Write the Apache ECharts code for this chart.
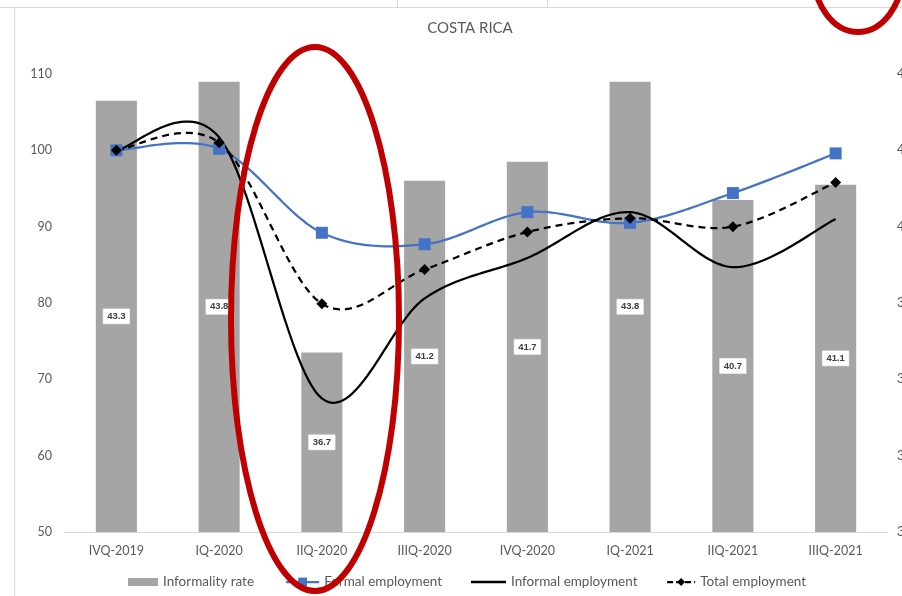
<!DOCTYPE html>
<html>
<head>
<meta charset="utf-8">
<script src="https://cdn.jsdelivr.net/npm/echarts@6/dist/echarts.min.js"></script>
<style>
  html, body { margin: 0; padding: 0; background: #ffffff; }
  #chart { width: 902px; height: 596px; }
</style>
</head>
<body>
<div id="chart"></div>
<script>
// Quarterly labour market indicators, Costa Rica (index IVQ-2019 = 100)
const categories = ['IVQ-2019', 'IQ-2020', 'IIQ-2020', 'IIIQ-2020', 'IVQ-2020', 'IQ-2021', 'IIQ-2021', 'IIIQ-2021'];
const informalityRate = [43.3, 43.8, 36.7, 41.2, 41.7, 43.8, 40.7, 41.1];
const formalEmployment = [100, 100.2, 89.2, 87.7, 91.9, 90.5, 94.4, 99.6];
const informalEmployment = [100, 101.7, 67.5, 80.6, 85.9, 91.9, 84.7, 91.0];
const totalEmployment = [100, 101.0, 79.9, 84.4, 89.3, 91.1, 90.0, 95.8];

const leftTicks = { min: 50, max: 110, interval: 10 };
const rightTicks = { min: 32, max: 44, interval: 2 };

const FONT = 'Lato';
const TEXT = '#595959';
const BLUE = '#4472c4';

// Catmull-Rom style smoothing (tangent = (next - prev) / 6), sampled into a polyline.
// Points are converted to pixels with the chart's own coordinate system.
function smoothRenderer(values, style) {
  return function (params, api) {
    if (params.dataIndex !== 0) return null;
    const pts = values.map((v, i) => api.coord([i, v]));
    const n = pts.length;
    const out = [pts[0]];
    const STEPS = 30;
    for (let i = 0; i < n - 1; i++) {
      const p0 = pts[Math.max(i - 1, 0)];
      const p1 = pts[i];
      const p2 = pts[i + 1];
      const p3 = pts[Math.min(i + 2, n - 1)];
      const c1 = [p1[0] + (p2[0] - p0[0]) / 6, p1[1] + (p2[1] - p0[1]) / 6];
      const c2 = [p2[0] - (p3[0] - p1[0]) / 6, p2[1] - (p3[1] - p1[1]) / 6];
      for (let s = 1; s <= STEPS; s++) {
        const t = s / STEPS, u = 1 - t;
        const a = u * u * u, b = 3 * u * u * t, c = 3 * u * t * t, d = t * t * t;
        out.push([
          a * p1[0] + b * c1[0] + c * c2[0] + d * p2[0],
          a * p1[1] + b * c1[1] + c * c2[1] + d * p2[1]
        ]);
      }
    }
    return {
      type: 'polyline',
      shape: { points: out, smooth: 0 },
      style: Object.assign({ fill: null, lineCap: 'butt', lineJoin: 'round' }, style),
      silent: true
    };
  };
}

const chart = echarts.init(document.getElementById('chart'), null, { renderer: 'canvas' });

const legendBase = {
  top: 575,
  padding: 0,
  itemGap: 0,
  textStyle: { fontFamily: FONT, fontSize: 13.5, color: TEXT },
  selectedMode: false
};

chart.setOption({
  backgroundColor: '#ffffff',
  animation: false,
  title: {
    text: 'COSTA RICA',
    left: 465,
    top: 16,
    textAlign: 'center',
    textStyle: { fontFamily: FONT, fontSize: 15, fontWeight: 'normal', color: TEXT }
  },
  grid: { left: 65, right: 15, top: 74, bottom: 64, outerBoundsMode: 'none', containLabel: false },
  legend: [
    Object.assign({}, legendBase, {
      left: 128, itemWidth: 30, itemHeight: 8,
      data: [{ name: 'Informality rate', icon: 'rect' }]
    }),
    Object.assign({}, legendBase, {
      left: 285, itemWidth: 33, itemHeight: 11,
      data: [{ name: 'Formal employment', lineStyle: { opacity: 1, width: 2.25, color: BLUE } }]
    }),
    Object.assign({}, legendBase, {
      left: 471, itemWidth: 35, itemHeight: 2.5,
      data: [{ name: 'Informal employment', icon: 'rect', itemStyle: { color: '#000000', opacity: 1 } }]
    }),
    Object.assign({}, legendBase, {
      left: 666, itemWidth: 28, itemHeight: 10,
      data: [{ name: 'Total employment', lineStyle: { opacity: 1, width: 2.25, color: '#000000', type: [6, 3] } }]
    })
  ],
  xAxis: {
    type: 'category',
    data: categories,
    axisLine: { lineStyle: { color: '#d9d9d9', width: 1 } },
    axisTick: { show: false },
    axisLabel: { fontFamily: FONT, fontSize: 12.5, color: TEXT, margin: 12 }
  },
  yAxis: [
    {
      type: 'value',
      min: leftTicks.min, max: leftTicks.max, interval: leftTicks.interval,
      splitLine: { show: false },
      axisLine: { show: false },
      axisTick: { show: false },
      axisLabel: { fontFamily: FONT, fontSize: 12.5, color: TEXT, margin: 13 }
    },
    {
      type: 'value',
      position: 'right',
      min: rightTicks.min, max: rightTicks.max, interval: rightTicks.interval,
      splitLine: { show: false },
      axisLine: { show: false },
      axisTick: { show: false },
      axisLabel: { fontFamily: FONT, fontSize: 12.5, color: TEXT, margin: 10 }
    }
  ],
  series: [
    {
      name: 'Informality rate',
      type: 'bar',
      yAxisIndex: 1,
      data: informalityRate,
      barWidth: '40%',
      itemStyle: { color: '#a5a5a5' },
      label: {
        show: true,
        position: 'inside',
        formatter: (p) => p.value.toFixed(1),
        fontFamily: 'Liberation Sans',
        fontSize: 9.5,
        fontWeight: 'bold',
        color: '#404040',
        backgroundColor: '#ffffff',
        borderColor: '#d0d0d0',
        borderWidth: 0.5,
        padding: [3, 4, 2, 4]
      },
      z: 1
    },
    // smoothed curves
    {
      name: 'formal-curve', type: 'custom', data: formalEmployment, z: 3,
      renderItem: smoothRenderer(formalEmployment, { stroke: BLUE, lineWidth: 2.25 })
    },
    {
      name: 'Informal employment', type: 'custom', data: informalEmployment, z: 3,
      itemStyle: { color: '#000000' },
      renderItem: smoothRenderer(informalEmployment, { stroke: '#000000', lineWidth: 2.25 })
    },
    {
      name: 'total-curve', type: 'custom', data: totalEmployment, z: 4,
      renderItem: smoothRenderer(totalEmployment, { stroke: '#000000', lineWidth: 2.25, lineDash: [7, 5] })
    },
    // point markers
    {
      name: 'Formal employment',
      type: 'line',
      data: formalEmployment,
      symbol: 'rect',
      symbolSize: 12,
      lineStyle: { opacity: 0 },
      itemStyle: { color: BLUE },
      z: 5
    },
    {
      name: 'Total employment',
      type: 'line',
      data: totalEmployment,
      symbol: 'diamond',
      symbolSize: 11,
      lineStyle: { opacity: 0 },
      itemStyle: { color: '#000000' },
      z: 6
    }
  ],
  graphic: [
    // outer sheet frame
    { type: 'line', shape: { x1: 0, y1: 7.5, x2: 902, y2: 7.5 }, style: { stroke: '#d9d9d9', lineWidth: 1 }, silent: true },
    { type: 'line', shape: { x1: 397.5, y1: 0, x2: 397.5, y2: 7 }, style: { stroke: '#d9d9d9', lineWidth: 1 }, silent: true },
    { type: 'line', shape: { x1: 547.5, y1: 0, x2: 547.5, y2: 7 }, style: { stroke: '#d9d9d9', lineWidth: 1 }, silent: true },
    { type: 'line', shape: { x1: 14.5, y1: 8, x2: 14.5, y2: 596 }, style: { stroke: '#d9d9d9', lineWidth: 1 }, silent: true },
    // red highlight rings
    { type: 'ellipse', shape: { cx: 315, cy: 319, rx: 84, ry: 272 }, style: { fill: null, stroke: '#c00000', lineWidth: 6 }, z: 100, silent: true },
    { type: 'ellipse', shape: { cx: 858, cy: -29.5, rx: 45, ry: 61.5 }, style: { fill: null, stroke: '#c00000', lineWidth: 6 }, z: 100, silent: true }
  ]
});
</script>
</body>
</html>
